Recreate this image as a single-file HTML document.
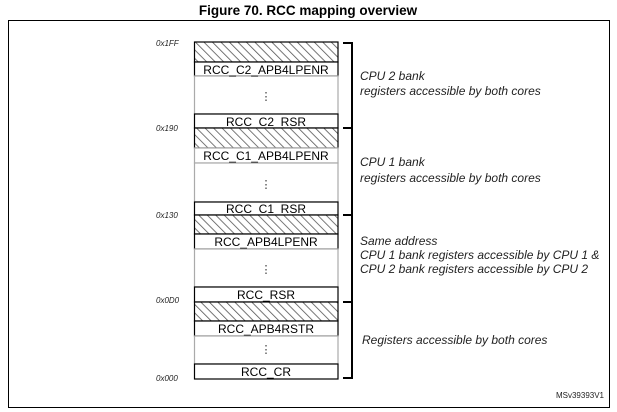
<!DOCTYPE html>
<html><head><style>
html,body{margin:0;padding:0;background:#fff;}
svg{display:block;}
text{font-family:"Liberation Sans",Arial,sans-serif;}
</style></head><body>
<svg width="617" height="412" viewBox="0 0 617 412" xmlns="http://www.w3.org/2000/svg">
<defs>
<pattern id="h" patternUnits="userSpaceOnUse" width="6" height="6" patternTransform="rotate(-45)">
<rect width="6" height="6" fill="#fff"/>
<line x1="0" y1="0" x2="0" y2="6" stroke="#555" stroke-width="1.6"/>
</pattern>
</defs>
<text x="308" y="15" font-size="13.5" font-weight="bold" text-anchor="middle">Figure 70. RCC mapping overview</text>
<rect x="8.5" y="20.5" width="601" height="387" fill="none" stroke="#000" stroke-width="1"/>

<g stroke="#000" stroke-width="1.2">
<rect x="194.5" y="42" width="143.5" height="20" fill="url(#h)"/>
<rect x="194.5" y="62" width="143.5" height="14" fill="#fff"/>
<rect x="194.5" y="76" width="143.5" height="38" fill="#fff" stroke="#aaa"/>
<rect x="194.5" y="114" width="143.5" height="14" fill="#fff"/>

<rect x="194.5" y="128" width="143.5" height="20" fill="url(#h)"/>
<rect x="194.5" y="148" width="143.5" height="15" fill="#fff" stroke="#aaa"/>
<rect x="194.5" y="163" width="143.5" height="39" fill="#fff" stroke="#aaa"/>
<rect x="194.5" y="202" width="143.5" height="13" fill="#fff"/>

<rect x="194.5" y="215" width="143.5" height="19" fill="url(#h)"/>
<rect x="194.5" y="234" width="143.5" height="15" fill="#fff"/>
<rect x="194.5" y="249" width="143.5" height="38" fill="#fff" stroke="#aaa"/>
<rect x="194.5" y="287" width="143.5" height="15" fill="#fff"/>

<rect x="194.5" y="302" width="143.5" height="19" fill="url(#h)"/>
<rect x="194.5" y="321" width="143.5" height="15" fill="#fff"/>
<rect x="194.5" y="336" width="143.5" height="28" fill="#fff" stroke="#aaa"/>
<rect x="194.5" y="364" width="143.5" height="15" fill="#fff"/>
</g>

<g font-size="12" text-anchor="middle">
<text x="266" y="74">RCC_C2_APB4LPENR</text>
<text x="266" y="126">RCC_C2_RSR</text>
<text x="266" y="160">RCC_C1_APB4LPENR</text>
<text x="266" y="213">RCC_C1_RSR</text>
<text x="266" y="246">RCC_APB4LPENR</text>
<text x="266" y="299">RCC_RSR</text>
<text x="266" y="333">RCC_APB4RSTR</text>
<text x="266" y="376">RCC_CR</text>
</g>
<g font-size="11" text-anchor="middle" fill="#333">
<text x="266" y="100">⋮</text>
<text x="266" y="188">⋮</text>
<text x="266" y="273">⋮</text>
<text x="266" y="353">⋮</text>
</g>

<g font-size="8" font-style="italic" fill="#222">
<text x="156" y="46">0x1FF</text>
<text x="156" y="131">0x190</text>
<text x="156" y="218">0x130</text>
<text x="156" y="303">0x0D0</text>
<text x="156" y="381">0x000</text>
</g>

<g stroke="#000" stroke-width="2" fill="none">
<path d="M343 43 H352 V378 H343"/>
<path d="M343 128 H352"/>
<path d="M343 215 H352"/>
<path d="M343 302 H352"/>
</g>

<g font-size="12" font-style="italic" fill="#222">
<text x="360" y="80">CPU 2 bank</text>
<text x="360" y="95">registers accessible by both cores</text>
<text x="360" y="166">CPU 1 bank</text>
<text x="360" y="182">registers accessible by both cores</text>
<text x="360" y="245">Same address</text>
<text x="360" y="259">CPU 1 bank registers accessible by CPU 1 &amp;</text>
<text x="360" y="273">CPU 2 bank registers accessible by CPU 2</text>
<text x="362" y="344">Registers accessible by both cores</text>
</g>
<text x="604" y="398" font-size="8" text-anchor="end" fill="#222">MSv39393V1</text>
</svg>
</body></html>
